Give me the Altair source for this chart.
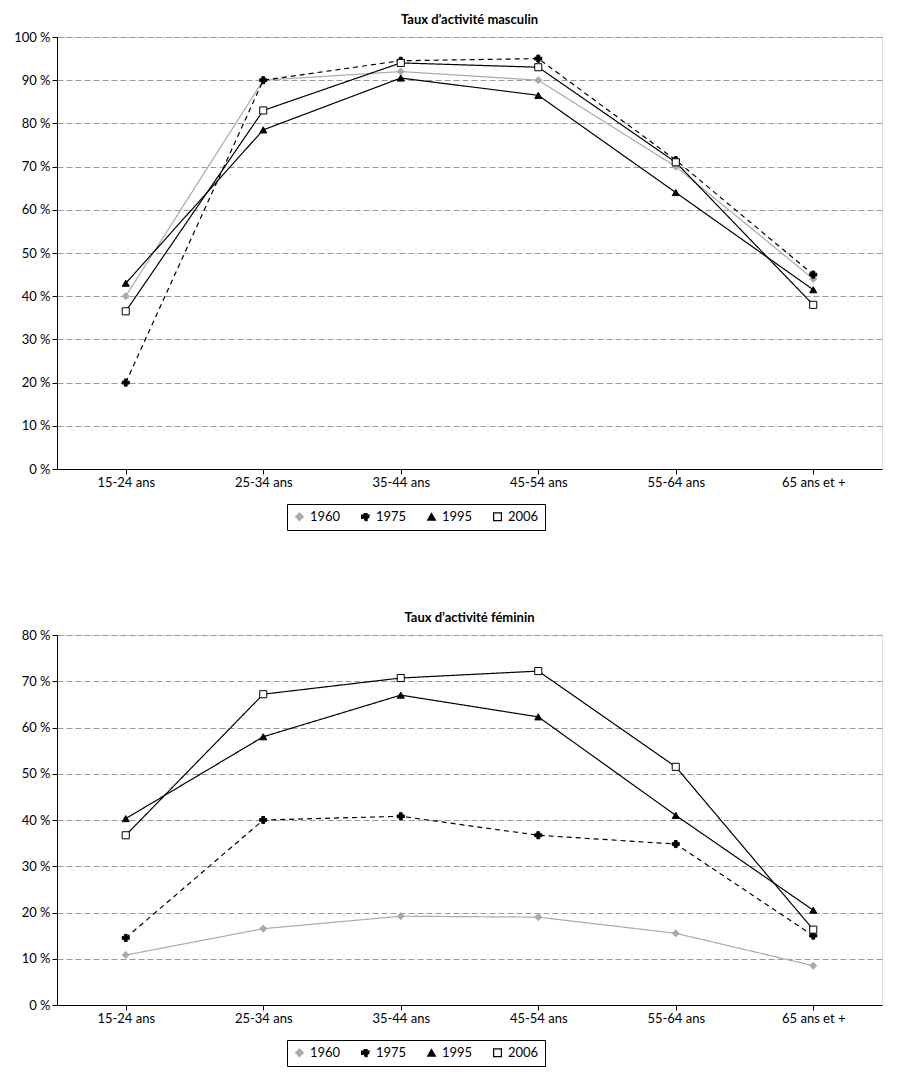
import altair as alt
import pandas as pd

ages = ["15-24 ans", "25-34 ans", "35-44 ans", "45-54 ans", "55-64 ans", "65 ans et +"]
years = ["1960", "1975", "1995", "2006"]
masc = {
    "1960": [40, 90, 92, 90, 70, 44],
    "1975": [20, 90, 94.5, 95, 71.5, 45],
    "1995": [43, 78.5, 90.5, 86.5, 64, 41.5],
    "2006": [36.5, 83, 94, 93, 71, 38],
}
fem = {
    "1960": [10.8, 16.5, 19.2, 19, 15.5, 8.5],
    "1975": [14.5, 40, 40.8, 36.7, 34.8, 15],
    "1995": [40.3, 58, 67, 62.3, 41, 20.5],
    "2006": [36.7, 67.2, 70.7, 72.2, 51.5, 16.3],
}

def df(d):
    return pd.DataFrame([{"age": a, "year": y, "v": d[y][i]} for y in years for i, a in enumerate(ages)])

colors = ["#aaaaaa", "#000000", "#000000", "#000000"]
fills = ["#aaaaaa", "#000000", "#000000", "#ffffff"]
shapes = ["diamond", "cross", "triangle-up", "square"]
dashes = [[1, 0], [5, 4], [1, 0], [1, 0]]

def panel(d, title, ymax, h):
    x = alt.X("age:N", sort=ages, scale=alt.Scale(type="point", padding=0.5), title=None,
              axis=alt.Axis(labelAngle=0, grid=False, labelFontSize=13, labelColor="#000",
                            domainColor="#000", tickColor="#000", labelFont="Lato"))
    y = alt.Y("v:Q", scale=alt.Scale(domain=[0, ymax]), title=None,
              axis=alt.Axis(values=list(range(0, ymax + 1, 10)), labelExpr="datum.value + ' %'",
                            gridDash=[6, 3], gridColor="#999", domainColor="#000", tickColor="#000",
                            labelFontSize=13, labelColor="#000", labelFont="Lato"))
    leg = alt.Legend(orient="none", legendX=230, legendY=h + 35, direction="horizontal", title=None,
                     strokeColor="#000", padding=6, labelFontSize=13, symbolSize=60,
                     symbolStrokeWidth=1.2, labelFont="Lato", columnPadding=18)
    color = alt.Color("year:N", scale=alt.Scale(domain=years, range=colors), legend=leg)
    dash = alt.StrokeDash("year:N", scale=alt.Scale(domain=years, range=dashes), legend=leg)
    shape = alt.Shape("year:N", scale=alt.Scale(domain=years, range=shapes), legend=leg)
    fill = alt.Fill("year:N", scale=alt.Scale(domain=years, range=fills), legend=leg)
    base = alt.Chart(df(d)).encode(x=x, y=y, color=color)
    line = base.mark_line(strokeWidth=1.2).encode(strokeDash=dash)
    pts = base.mark_point(filled=False, size=50, strokeWidth=1, opacity=1).encode(shape=shape, fill=fill)
    return alt.layer(line, pts).properties(
        width=825, height=h,
        title=alt.TitleParams(title, fontSize=13, font="Lato", fontWeight="bold", color="#000"))

chart = alt.vconcat(panel(masc, "Taux d’activité masculin", 100, 432),
                    panel(fem, "Taux d’activité féminin", 80, 370), spacing=80
).resolve_scale(color="independent", shape="independent", fill="independent", strokeDash="independent"
).configure_view(stroke="transparent", strokeWidth=0).configure(padding={"left": 5, "top": 5, "right": 5, "bottom": 5})

chart.save("out.html", embed_options={"renderer": "svg", "actions": False})
